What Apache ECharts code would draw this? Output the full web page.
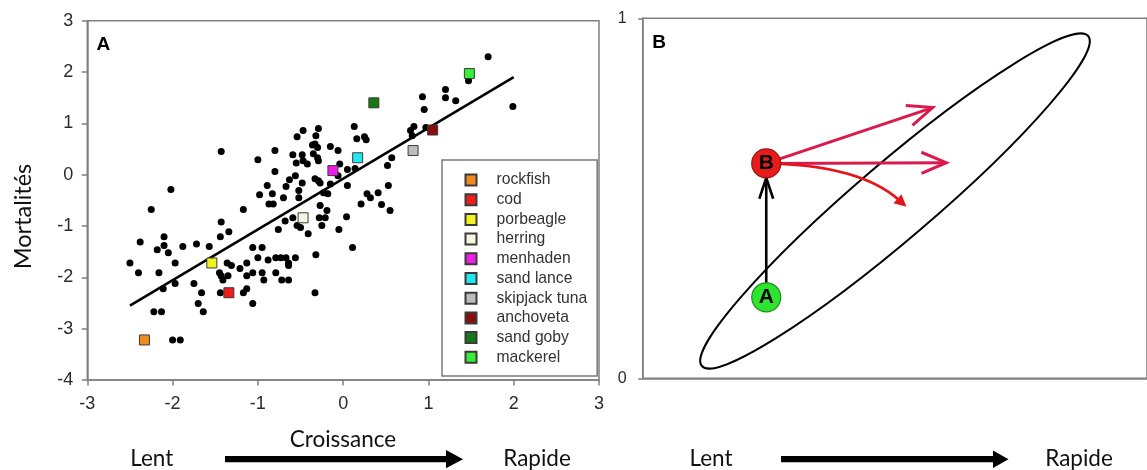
<!DOCTYPE html>
<html><head><meta charset="utf-8">
<script src="https://cdn.jsdelivr.net/npm/echarts@6/dist/echarts.min.js"></script>
<style>html,body{margin:0;padding:0;background:#fff}#c{width:1147px;height:470px}</style>
</head><body><div id="c"></div>
<script>
// ---------- Panel A data ----------
const dots = [
[-2.50,-1.72],[-2.40,-1.91],[-2.38,-1.31],[-2.18,-1.46],[-2.16,-1.91],[-2.10,-1.21],[-2.10,-1.38],[-2.05,-1.52],
[-2.11,-2.22],[-1.97,-1.72],[-1.97,-2.12],[-2.22,-2.67],[-2.13,-2.67],[-2.00,-3.22],[-1.91,-3.22],[-1.88,-1.40],
[-1.72,-1.35],[-1.57,-1.40],[-1.75,-2.12],[-1.66,-2.30],[-1.70,-2.51],[-1.64,-2.67],[-1.44,-1.21],[-1.34,-1.11],
[-1.43,-0.92],[-1.36,-1.72],[-1.31,-1.77],[-1.45,-1.91],[-1.43,-1.97],[-1.41,-2.05],[-1.35,-1.97],[-1.44,-2.30],
[-1.21,-1.83],[-1.13,-1.72],[-1.13,-1.97],[-1.17,-2.30],[-1.13,-2.22],[-1.06,-2.51],[-1.06,-1.42],[-0.95,-1.42],
[-1.06,-1.91],[-1.00,-1.62],[-0.95,-1.91],[-0.93,-2.05],[-0.88,-1.66],[-0.79,-1.62],[-0.73,-1.62],[-0.67,-1.62],
[-0.64,-1.72],[-0.64,-1.77],[-0.79,-1.91],[-0.72,-2.05],[-0.64,-2.05],[-0.56,-1.62],[-0.32,-1.56],[-0.33,-2.30],
[0.11,-1.42],
[-1.43,0.45],[-2.02,-0.29],[-2.25,-0.68],[-1.17,-0.68],[-1.00,0.29],[-0.80,0.47],[-0.80,0.06],[-0.98,-0.39],
[-0.89,-0.21],[-0.83,-0.37],[-0.87,-0.57],[-0.82,-0.57],[-0.70,-0.45],[-0.63,-0.10],[-0.67,-0.23],[-0.56,-0.02],
[-0.48,-0.16],[-0.52,-0.31],[-0.52,-0.45],[-0.54,0.74],[-0.47,0.86],[-0.59,0.39],[-0.48,0.39],[-0.55,0.23],
[-0.47,0.27],[-0.42,0.21],[-0.36,0.58],[-0.33,0.60],[-0.30,0.53],[-0.32,0.76],[-0.29,0.90],[-0.35,0.41],
[-0.30,0.33],[-0.29,0.27],[-0.33,-0.08],[-0.29,-0.12],[-0.27,-0.16],[-0.15,0.55],[-0.06,0.47],[-0.04,0.21],
[-0.15,-0.18],[-0.06,-0.02],[0.05,0.10],[0.05,-0.21],[-0.23,-0.35],[-0.18,-0.37],[-0.27,-0.60],[-0.19,-0.70],
[-0.68,-0.90],[-0.59,-0.84],[-0.54,-0.99],[-0.50,-1.03],[-0.76,-1.07],[-0.41,-1.15],[-0.28,-0.84],[-0.21,-0.84],
[-0.25,-0.99],[-0.05,-1.07],[0.04,-0.82],
[1.70,2.30],[1.99,1.33],[1.47,1.83],[1.20,1.66],[1.20,1.50],[1.32,1.44],[0.93,1.52],[0.95,1.27],
[0.83,0.94],[0.79,0.86],[0.81,0.76],[0.97,0.92],[0.13,0.94],[0.16,0.70],[0.25,0.74],[0.27,0.68],
[0.57,0.33],[0.52,0.18],[0.14,0.12],[0.53,-0.21],[0.28,-0.37],[0.32,-0.45],[0.41,-0.35],[0.21,-0.57],
[0.45,-0.58],[0.55,-0.70]
];
const speciesNames  = ['rockfish','cod','porbeagle','herring','menhaden','sand lance','skipjack tuna','anchoveta','sand goby','mackerel'];
const speciesX      = [-2.33, -1.34, -1.54, -0.47, -0.12, 0.17, 0.82, 1.05, 0.36, 1.48];
const speciesY      = [-3.22, -2.30, -1.72, -0.84, 0.08, 0.33, 0.47, 0.87, 1.40, 1.97];
const speciesColors = ['#f28a1e','#ee1c1c','#f4f21e','#f6f6e0','#ee1ee6','#22e6f0','#bcbcbc','#8a0c0c','#157a15','#36ef36'];
const regressionLine = [[-2.5,-2.55],[2.0,1.9]];

// ---------- Panel B data ----------
const pointNames = ['A','B'];
const pointX = [0.245, 0.245];
const pointY = [0.225, 0.597];
const ellipseDef = [[0.5003, 0.4925, 0.8833, 0.9508, 0.5480, 0.4100]]; // center, major-axis end, minor-axis end
const blackArrow = [[0.245, 0.225, 0.245, 0.597]];
const redArrows  = [[0.245, 0.597, 0.575, 0.752],[0.245, 0.597, 0.602, 0.599]];
const curvedArrow = [[0.245, 0.597, 0.4302, 0.5925, 0.523, 0.4767]]; // start, control, end

const axisGray = '#808080';
const labelFont = '"Liberation Sans", Arial, sans-serif';
const titleFont = 'Lato, "Open Sans", sans-serif';

function chevronArrow(color, width, headLen, headAng, trimEnd) {
  return function (params, api) {
    const a = api.coord([api.value(0), api.value(1)]);
    let b = api.coord([api.value(2), api.value(3)]);
    const dx = b[0] - a[0], dy = b[1] - a[1], L = Math.hypot(dx, dy);
    const ux = dx / L, uy = dy / L;
    b = [b[0] - ux * trimEnd, b[1] - uy * trimEnd];
    const wing = (s) => {
      const c = Math.cos(s * headAng), sn = Math.sin(s * headAng);
      const bx = -ux, by = -uy;
      return [b[0] + headLen * (bx * c - by * sn), b[1] + headLen * (bx * sn + by * c)];
    };
    return { type: 'group', children: [
      { type: 'line', shape: { x1: a[0], y1: a[1], x2: b[0], y2: b[1] }, style: { stroke: color, lineWidth: width } },
      { type: 'polyline', shape: { points: [wing(1), b, wing(-1)] }, style: { stroke: color, lineWidth: width, fill: null, lineJoin: 'miter' } }
    ]};
  };
}

function curveArrowRender(params, api) {
  const p0 = api.coord([api.value(0), api.value(1)]);
  const c  = api.coord([api.value(2), api.value(3)]);
  const p2 = api.coord([api.value(4), api.value(5)]);
  const tx = p2[0] - c[0], ty = p2[1] - c[1], L = Math.hypot(tx, ty);
  const ux = tx / L, uy = ty / L, hl = 12, hw = 6;
  const base = [p2[0] - ux * hl, p2[1] - uy * hl];
  const px = -uy, py = ux;
  const color = '#e3151b';
  return { type: 'group', children: [
    { type: 'bezierCurve', shape: { x1: p0[0], y1: p0[1], x2: base[0] + ux * 2, y2: base[1] + uy * 2, cpx1: c[0], cpy1: c[1] },
      style: { stroke: color, lineWidth: 2.6, fill: null } },
    { type: 'polygon', shape: { points: [p2, [base[0] + px * hw, base[1] + py * hw], [base[0] - px * hw, base[1] - py * hw]] },
      style: { fill: color } }
  ]};
}

function ellipseRender(params, api) {
  const c  = api.coord([api.value(0), api.value(1)]);
  const m  = api.coord([api.value(2), api.value(3)]);
  const n  = api.coord([api.value(4), api.value(5)]);
  const rx = Math.hypot(m[0] - c[0], m[1] - c[1]);
  const ry = Math.hypot(n[0] - c[0], n[1] - c[1]);
  const rot = Math.atan2(-(m[1] - c[1]), m[0] - c[0]);
  return { type: 'ellipse', x: c[0], y: c[1], rotation: rot,
    shape: { cx: 0, cy: 0, rx: rx, ry: ry },
    style: { fill: null, stroke: '#000', lineWidth: 2 } };
}

const chart = echarts.init(document.getElementById('c'), null, { renderer: 'canvas' });

const speciesSeries = speciesNames.map((n, i) => ({
  type: 'scatter', name: n, xAxisIndex: 0, yAxisIndex: 0,
  data: [[speciesX[i], speciesY[i]]], symbol: 'rect', symbolSize: 10, z: 5,
  itemStyle: { color: speciesColors[i], borderColor: '#3a3a3a', borderWidth: 1, opacity: 1 }
}));

function txt(text, x, y, size, opts) {
  opts = opts || {};
  return { type: 'text', x: x, y: y, rotation: opts.rotation || 0, z: 100,
    style: { text: text, fill: opts.fill || '#111', fontSize: size, fontFamily: opts.family || titleFont,
      fontWeight: opts.weight || 'normal',
      textAlign: 'center', textVerticalAlign: 'middle', align: 'center', verticalAlign: 'middle' } };
}

const option = {
  animation: false,
  backgroundColor: '#fff',
  grid: [
    { left: 87.3, top: 20.7, width: 511.7, height: 359.3, show: true, borderColor: axisGray, borderWidth: 1.5, backgroundColor: 'transparent' },
    { left: 642.7, top: 18.3, width: 514.3, height: 360, show: true, borderColor: axisGray, borderWidth: 1.5, backgroundColor: 'transparent' }
  ],
  xAxis: [
    { gridIndex: 0, type: 'value', min: -3, max: 3, interval: 1,
      axisLine: { show: true, onZero: false, lineStyle: { color: axisGray, width: 1.5 } },
      axisTick: { show: true, length: 5.5, lineStyle: { color: axisGray, width: 1.5 } },
      axisLabel: { margin: 15, fontSize: 18, color: '#2a2a2a', fontFamily: labelFont },
      splitLine: { show: false } },
    { gridIndex: 1, type: 'value', min: 0, max: 1,
      axisLine: { show: true, onZero: false, lineStyle: { color: axisGray, width: 1.5 } },
      axisTick: { show: false }, axisLabel: { show: false }, splitLine: { show: false } }
  ],
  yAxis: [
    { gridIndex: 0, type: 'value', min: -4, max: 3, interval: 1,
      axisLine: { show: true, onZero: false, lineStyle: { color: axisGray, width: 1.5 } },
      axisTick: { show: true, length: 5.5, lineStyle: { color: axisGray, width: 1.5 } },
      axisLabel: { margin: 14, fontSize: 18, color: '#2a2a2a', fontFamily: labelFont },
      splitLine: { show: false } },
    { gridIndex: 1, type: 'value', min: 0, max: 1, interval: 1,
      axisLine: { show: true, onZero: false, lineStyle: { color: axisGray, width: 1.5 } },
      axisTick: { show: true, length: 4.5, lineStyle: { color: axisGray, width: 1.5 } },
      axisLabel: { margin: 16, fontSize: 16, color: '#2a2a2a', fontFamily: labelFont },
      splitLine: { show: false } }
  ],
  legend: {
    data: speciesNames, orient: 'vertical', left: 442, top: 160,
    padding: [12, 10, 10.7, 22.5], itemGap: 3.7, itemWidth: 11, itemHeight: 11, icon: 'rect',
    borderColor: '#7a7a7a', borderWidth: 1.5, backgroundColor: '#fff',
    textStyle: { fontSize: 15.7, color: '#333', fontFamily: labelFont, padding: [0, 0, 0, 15], lineHeight: 16 },
    selectedMode: false
  },
  series: [
    { type: 'scatter', name: 'points', xAxisIndex: 0, yAxisIndex: 0, data: dots, symbolSize: 7,
      itemStyle: { color: '#000', opacity: 1 }, z: 2, silent: true },
    { type: 'line', name: 'fit', xAxisIndex: 0, yAxisIndex: 0, data: regressionLine, symbol: 'none',
      lineStyle: { color: '#000', width: 2.5 }, z: 3, silent: true },
    ...speciesSeries,
    { type: 'custom', name: 'ellipse', xAxisIndex: 1, yAxisIndex: 1, data: ellipseDef, renderItem: ellipseRender, z: 2, silent: true },
    { type: 'custom', name: 'arrowAB', xAxisIndex: 1, yAxisIndex: 1, data: blackArrow, renderItem: chevronArrow('#000', 2.6, 22, 0.32, 14.5), z: 3, silent: true },
    { type: 'custom', name: 'arrowsRed', xAxisIndex: 1, yAxisIndex: 1, data: redArrows, renderItem: chevronArrow('#d91a4d', 3, 27, 0.4, 0), z: 3, silent: true },
    { type: 'custom', name: 'arrowCurve', xAxisIndex: 1, yAxisIndex: 1, data: curvedArrow, renderItem: curveArrowRender, z: 3, silent: true },
    { type: 'scatter', name: 'states', xAxisIndex: 1, yAxisIndex: 1, symbolSize: 29, z: 10, silent: true,
      data: pointNames.map((n, i) => ({ name: n, value: [pointX[i], pointY[i]],
        itemStyle: { color: i === 0 ? '#2fe42f' : '#e81b1b', borderColor: i === 0 ? '#1d8a1d' : '#9a1010', borderWidth: 1.2, opacity: 1 } })),
      label: { show: true, position: 'inside', formatter: '{b}', fontSize: 21, fontWeight: 'bold', color: '#000', fontFamily: labelFont } }
  ],
  graphic: { elements: [
    txt('A', 103.3, 45, 19, { weight: 'bold', family: labelFont, fill: '#000' }),
    txt('B', 659, 43, 19, { weight: 'bold', family: labelFont, fill: '#000' }),
    txt('Mortalités', 23.5, 216.5, 23.5, { rotation: Math.PI / 2 }),
    txt('Croissance', 343, 440, 22.5),
    txt('Lent', 151.7, 458.5, 22.5),
    txt('Rapide', 537, 458.5, 22.5),
    txt('Lent', 711, 458.5, 22.5),
    txt('Rapide', 1079, 458.5, 22.5),
    { type: 'rect', shape: { x: 225, y: 456, width: 223, height: 6.3 }, style: { fill: '#000' } },
    { type: 'polygon', shape: { points: [[446, 450], [463, 459.2], [446, 468.3]] }, style: { fill: '#000' } },
    { type: 'rect', shape: { x: 781, y: 456, width: 214, height: 6.3 }, style: { fill: '#000' } },
    { type: 'polygon', shape: { points: [[993, 450.5], [1008.5, 459.2], [993, 468]] }, style: { fill: '#000' } }
  ]}
};
chart.setOption(option);
</script>
</body></html>
